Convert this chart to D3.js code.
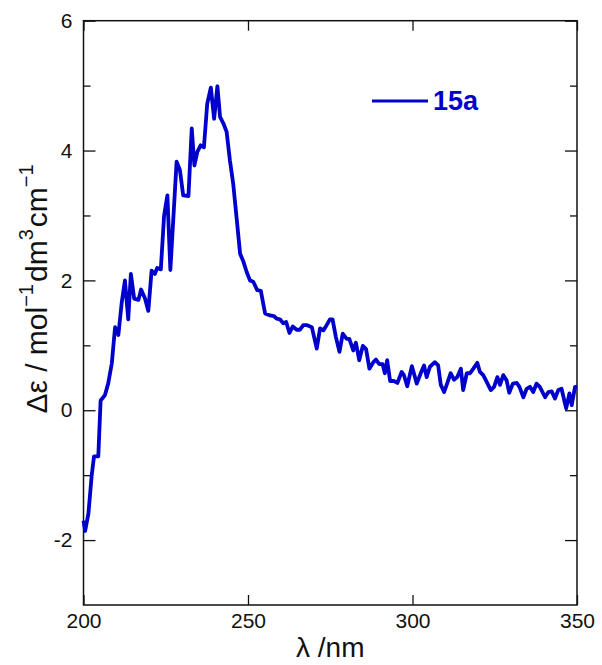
<!DOCTYPE html>
<html>
<head>
<meta charset="utf-8">
<script src="https://cdn.jsdelivr.net/npm/d3@7"></script>
<style>
body { margin: 0; background: #fff; }
svg text { font-family: "Liberation Sans", Arial, sans-serif; }
</style>
</head>
<body>
<svg width="602" height="665"></svg>
<script>
// wavelength (nm) and delta epsilon
var wavelength = [200,200.5,201.5,202.5,203.2,204.5,205.2,206.5,207.5,208.6,209.6,210.6,211.6,212.6,213.6,214.4,215.4,216.7,217.5,218.7,219.7,220.7,221.7,222.4,223.5,224.5,225.5,226.4,228.3,229.3,230.3,231.9,232.9,233.7,234.6,235.6,236.6,237.6,238.7,239.7,240.7,241.5,242.5,243.5,244.5,245.5,246.6,247.6,248.6,249.6,250.6,251.6,252.8,253.9,255.2,256.7,257.9,258.7,259.7,260.7,261.6,262.6,263.6,264.8,265.8,266.8,268,269.4,270.9,271.9,272.9,273.9,274.9,275.7,276.7,277.8,278.8,280,280.8,282,282.8,283.8,284.9,285.9,286.9,288.1,288.9,289.9,290.9,291.6,292.3,293.2,294.4,295.4,296.7,297.4,298.4,299.8,301.3,302.5,303.5,304.3,305.3,306.8,307.8,308.6,309.6,310.6,311.6,312.6,313.6,314.7,315.4,316.5,317.5,318.5,319.7,320.5,321.5,322.5,323.8,324.8,325.8,326.6,327.6,328.6,329.4,330.5,331.7,332.5,333.7,334.7,335.7,336.7,337.7,338.7,340.3,341.3,342.3,343.3,344.3,345.3,346.7,347.7,348.4,349.4,350];
var deltaEps = [-1.70,-1.86,-1.59,-1.00,-0.71,-0.71,0.15,0.23,0.41,0.72,1.28,1.16,1.65,2.00,1.40,2.10,1.72,1.70,1.86,1.72,1.53,2.15,2.10,2.19,2.17,3.00,3.31,2.16,3.83,3.70,3.31,3.30,4.34,3.77,3.98,4.08,4.05,4.72,4.97,4.49,4.99,4.52,4.42,4.29,3.85,3.49,2.93,2.41,2.29,2.13,2.00,1.98,1.85,1.84,1.49,1.46,1.45,1.41,1.40,1.34,1.36,1.19,1.29,1.24,1.24,1.31,1.31,1.28,0.95,1.26,1.23,1.31,1.40,1.40,1.13,0.90,1.18,1.10,1.10,0.92,1.04,0.77,0.99,0.94,0.64,0.74,0.78,0.71,0.71,0.57,0.77,0.45,0.45,0.42,0.59,0.54,0.37,0.68,0.41,0.57,0.69,0.51,0.67,0.74,0.69,0.39,0.28,0.42,0.57,0.47,0.51,0.64,0.31,0.57,0.57,0.64,0.73,0.59,0.54,0.44,0.31,0.36,0.51,0.39,0.54,0.46,0.27,0.41,0.42,0.36,0.20,0.33,0.36,0.28,0.41,0.36,0.20,0.28,0.29,0.18,0.31,0.33,0.03,0.26,0.08,0.36,0.36];

var xTicks = [200, 250, 300, 350];
var yTicks = [-2, 0, 2, 4, 6];
var yMinor = [-1, 1, 3, 5];
var seriesName = "15a";

var svg = d3.select("svg"),
    plotL = 83.5, plotR = 577, plotT = 20.7, plotB = 605,
    blue = "#0000cc";

var x = d3.scaleLinear().domain([200, 350]).range([plotL, plotR]);
var y = d3.scaleLinear().domain([-3, 6]).range([plotB, plotT]);

// frame
svg.append("rect")
  .attr("x", plotL).attr("y", plotT)
  .attr("width", plotR - plotL).attr("height", plotB - plotT)
  .attr("fill", "none").attr("stroke", "#111").attr("stroke-width", 1.5);

function style(g) {
  g.select(".domain").remove();
  g.selectAll("line").attr("stroke", "#111").attr("stroke-width", 1.3);
  g.selectAll("text").attr("font-size", 21).attr("fill", "#111")
    .attr("font-family", "Liberation Sans, Arial, sans-serif");
}
var plain = function(d) { return String(d); };

svg.append("g").attr("transform", "translate(0," + plotB + ")")
  .call(d3.axisBottom(x).tickValues(xTicks).tickSize(-10).tickPadding(8).tickFormat(plain))
  .call(style);
svg.append("g").attr("transform", "translate(0," + plotT + ")")
  .call(d3.axisTop(x).tickValues(xTicks).tickSize(-10).tickFormat(""))
  .call(style);
svg.append("g").attr("transform", "translate(" + plotL + ",0)")
  .call(d3.axisLeft(y).tickValues(yTicks).tickSize(-12).tickPadding(11).tickFormat(plain))
  .call(style);
svg.append("g").attr("transform", "translate(" + plotL + ",0)")
  .call(d3.axisLeft(y).tickValues(yMinor).tickSize(-7).tickFormat(""))
  .call(style);
svg.append("g").attr("transform", "translate(" + plotR + ",0)")
  .call(d3.axisRight(y).tickValues(yTicks).tickSize(-12).tickFormat(""))
  .call(style);
svg.append("g").attr("transform", "translate(" + plotR + ",0)")
  .call(d3.axisRight(y).tickValues(yMinor).tickSize(-7).tickFormat(""))
  .call(style);

// spectrum
var line = d3.line()
  .x(function(d, i) { return x(wavelength[i]); })
  .y(function(d) { return y(d); });

svg.append("path")
  .datum(deltaEps)
  .attr("d", line)
  .attr("fill", "none")
  .attr("stroke", blue)
  .attr("stroke-width", 3.8)
  .attr("stroke-linejoin", "round");

// legend
svg.append("line")
  .attr("x1", 372).attr("x2", 428).attr("y1", 101).attr("y2", 101)
  .attr("stroke", blue).attr("stroke-width", 3);
svg.append("text")
  .attr("x", 433).attr("y", 110)
  .attr("font-size", 27).attr("font-weight", "bold").attr("fill", blue)
  .text(seriesName);

// axis titles
svg.append("text")
  .attr("x", (plotL + plotR) / 2).attr("y", 657)
  .attr("text-anchor", "middle").attr("font-size", 28).attr("fill", "#111")
  .text("λ /nm");

var yt = svg.append("text")
  .attr("transform", "translate(47,289) rotate(-90)")
  .attr("text-anchor", "middle").attr("font-size", 30).attr("fill", "#111");
yt.append("tspan").text("Δε / mol");
yt.append("tspan").attr("dy", -14).attr("font-size", 20).text("−1");
yt.append("tspan").attr("dy", 14).attr("dx", 2).text("dm");
yt.append("tspan").attr("dy", -14).attr("font-size", 20).text("3");
yt.append("tspan").attr("dy", 14).attr("dx", 2).text("cm");
yt.append("tspan").attr("dy", -14).attr("font-size", 20).text("−1");
</script>
</body>
</html>
